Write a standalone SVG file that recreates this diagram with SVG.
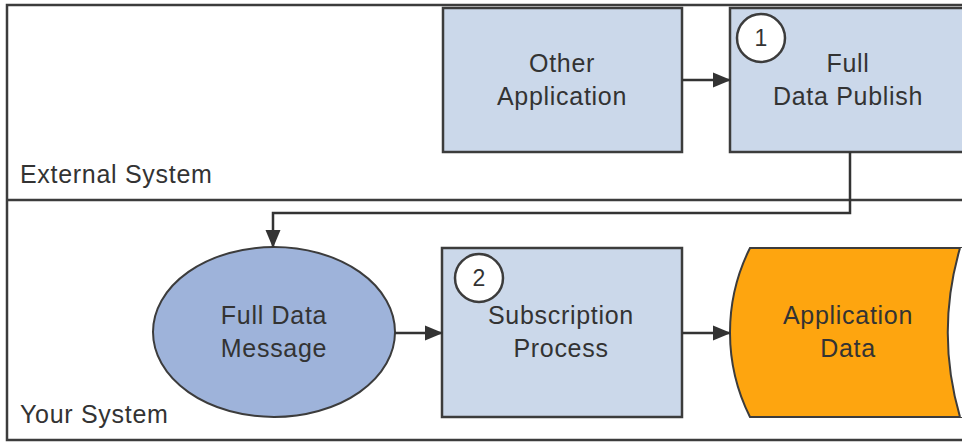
<svg xmlns="http://www.w3.org/2000/svg" width="962" height="442" viewBox="0 0 962 442">
<defs>
<style>
.frame{fill:none;stroke:#3c3c3c;stroke-width:2.5}
.box{fill:#cbd8ea;stroke:#3c3c3c;stroke-width:2.5}
.msg{fill:#9eb3da;stroke:#3c3c3c;stroke-width:2}
.store{fill:#fea50f;stroke:#3c3c3c;stroke-width:2}
.num{fill:#ffffff;stroke:#3c3c3c;stroke-width:2.5}
.conn{fill:none;stroke:#333333;stroke-width:2.5}
text{font-family:"Liberation Sans",Arial,sans-serif;font-size:25px;fill:#333333;letter-spacing:0.7px}
.c{text-anchor:middle}
.n{font-size:23px;letter-spacing:0}
</style>
<marker id="arr" markerWidth="18" markerHeight="16" viewBox="0 0 18 16" refX="17" refY="8" orient="auto" markerUnits="userSpaceOnUse">
<path d="M0,0.5 L18,8 L0,15.5 Z" fill="#333333"/>
</marker>
</defs>
<rect x="0" y="0" width="962" height="442" fill="#ffffff"/>
<g id="frame">
<path class="frame" d="M962,5 H7 V440 H962"/>
<line class="frame" x1="7" y1="200" x2="962" y2="200" stroke-width="3"/>
<text x="20" y="183">External System</text>
<text x="20" y="423">Your System</text>
</g>
<g id="other-application">
<rect class="box" x="443" y="8" width="239" height="144"/>
<text class="c" x="562" y="72">Other</text>
<text class="c" x="562" y="105">Application</text>
</g>
<g id="full-data-publish">
<rect class="box" x="730" y="8" width="240" height="144"/>
<circle class="num" cx="761" cy="38" r="24"/>
<text class="c n" x="761" y="46">1</text>
<text class="c" x="848" y="72">Full</text>
<text class="c" x="848" y="105">Data Publish</text>
</g>
<g id="full-data-message">
<ellipse class="msg" cx="274" cy="332" rx="121" ry="85"/>
<text class="c" x="274" y="324">Full Data</text>
<text class="c" x="274" y="357">Message</text>
</g>
<g id="subscription-process">
<rect class="box" x="442" y="248" width="240" height="169"/>
<circle class="num" cx="479" cy="278" r="24"/>
<text class="c n" x="479" y="286">2</text>
<text class="c" x="561" y="324">Subscription</text>
<text class="c" x="561" y="357">Process</text>
</g>
<g id="application-data">
<path class="store" d="M750,248 H962 V417 H750 A188.5,188.5 0 0 1 750,248 Z"/>
<path d="M962,248 H960 A303.5,303.5 0 0 0 960,417 H962 Z" fill="#ffffff" stroke="none"/>
<path d="M960,248 A303.5,303.5 0 0 0 960,417" fill="none" stroke="#3c3c3c" stroke-width="2"/>
<text class="c" x="848" y="324">Application</text>
<text class="c" x="848" y="357">Data</text>
</g>
<g id="connectors">
<line class="conn" x1="682" y1="80" x2="730" y2="80" marker-end="url(#arr)"/>
<polyline class="conn" points="850,152 850,213 273,213 273,247" marker-end="url(#arr)"/>
<line class="conn" x1="395" y1="333" x2="442" y2="333" marker-end="url(#arr)"/>
<line class="conn" x1="682" y1="333" x2="730" y2="333" marker-end="url(#arr)"/>
</g>
</svg>
